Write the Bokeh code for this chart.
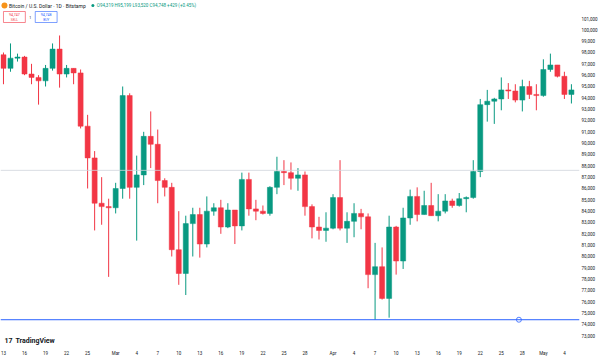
import pandas as pd
from bokeh.plotting import figure
from bokeh.models import (ColumnDataSource, FixedTicker, NumeralTickFormatter, Span,
                          Label, Range1d)
from bokeh.embed import file_html
from bokeh.resources import INLINE

# ---------------- data (BTC/USD daily, Bitstamp) ----------------
first_day = "2025-02-13"
dates = pd.date_range(first_day, periods=82, freq="D")

opens = [97800, 96600, 97500, 97600, 96100, 95800, 95500, 96600, 98300, 96100,
         96600, 96200, 91500, 88700, 84700, 84400, 84300, 86000, 94200, 86100,
         87200, 90600, 89900, 86700, 86100, 80600, 78500, 82900, 83700, 81100,
         84000, 84300, 82600, 84100, 82700, 86800, 84200, 84000, 83800, 86100,
         87500, 87400, 86900, 87200, 84400, 82600, 82300, 82500, 85200, 82500,
         83100, 83800, 83500, 78400, 79100, 76300, 82600, 79600, 83400, 85300,
         83700, 84500, 83600, 84000, 84900, 84500, 85100, 85200, 87500, 93400,
         93700, 93900, 94700, 94600, 93800, 95000, 94300, 94200, 96500, 96900,
         95900, 94300]
highs = [98000, 98800, 97900, 97700, 97000, 96000, 96900, 98800, 99500, 96900,
         96600, 96500, 92500, 89300, 87000, 85100, 86500, 95000, 94400, 88900,
         91000, 92800, 91200, 86900, 86500, 84000, 83600, 84300, 84300, 85300,
         84700, 85000, 84700, 84100, 87400, 87400, 85000, 84500, 86200, 88800,
         88500, 88300, 87800, 87500, 84600, 83500, 83900, 85500, 88500, 83900,
         84700, 84200, 83800, 81200, 80800, 83600, 82700, 84300, 85900, 86100,
         85800, 86500, 85500, 85500, 85100, 85600, 85300, 88500, 93900, 94700,
         94000, 95800, 95300, 95200, 95600, 95500, 95200, 97400, 97900, 96900,
         96300, 95200]
lows = [95200, 96300, 97200, 96000, 95200, 93400, 95000, 96400, 94900, 95800,
        95200, 91300, 86000, 82300, 82800, 78200, 83800, 85100, 85100, 81400,
        86300, 87800, 84700, 85300, 80000, 77500, 76600, 80000, 79900, 80800,
        83600, 82000, 82500, 81100, 82300, 83600, 83200, 83700, 83600, 85500,
        86300, 85900, 85800, 83600, 81600, 81500, 81300, 82400, 82300, 81200,
        81700, 82400, 77200, 74420, 76200, 74600, 78400, 78900, 82800, 83100,
        83700, 83600, 83100, 83800, 84300, 84400, 83900, 85100, 87000, 91900,
        91700, 92900, 93900, 93600, 92800, 93900, 92900, 94100, 96300, 95800,
        93900, 93500]
closes = [96600, 97500, 97600, 96100, 95800, 95500, 96600, 98300, 96100, 96600,
          96200, 91500, 88700, 84700, 84400, 84300, 86000, 94200, 86100, 87200,
          90600, 89900, 86700, 86100, 80600, 78500, 82900, 83700, 81100, 84000,
          84300, 82600, 84100, 82700, 86800, 84200, 84000, 83800, 86100, 87500,
          87400, 86900, 87200, 84400, 82600, 82300, 82500, 85200, 82500, 83100,
          83800, 83500, 78400, 79100, 76300, 82600, 79600, 83400, 85300, 83700,
          84500, 83600, 84000, 84900, 84500, 85100, 85200, 87500, 93400, 93700,
          93900, 94700, 94600, 93800, 95000, 94300, 94200, 96500, 96900, 95900,
          94300, 94700]

tick_dates = ["2025-02-13", "2025-02-16", "2025-02-19", "2025-02-22", "2025-02-25",
              "2025-03-01", "2025-03-04", "2025-03-07", "2025-03-10", "2025-03-13",
              "2025-03-16", "2025-03-19", "2025-03-22", "2025-03-25", "2025-03-28",
              "2025-04-01", "2025-04-04", "2025-04-07", "2025-04-10", "2025-04-13",
              "2025-04-16", "2025-04-19", "2025-04-22", "2025-04-25", "2025-04-28",
              "2025-05-01", "2025-05-04"]
tick_labels = ["13", "16", "19", "22", "25", "Mar", "4", "7", "10", "13", "16", "19",
               "22", "25", "28", "Apr", "4", "7", "10", "13", "16", "19", "22", "25",
               "28", "May", "4"]
price_ticks = list(range(72000, 102000, 1000))

support_level = 74420      # blue horizontal ray
marker_level = 87600       # grey horizontal line
last_close = closes[-1]

UP, DOWN = "#089981", "#F23645"

# ---------------- layout helpers (pixel -> data) ----------------
PX_DAY = 7.06
X0 = -3 / PX_DAY
FRAME_W, FRAME_H = 583, 346
X1 = X0 + FRAME_W / PX_DAY
PX_K = 88.24  # price per pixel
def xd(px):
    return X0 + px / PX_DAY
def yd(py):
    return 101000 - (py - 18) * PX_K
Y1, Y0 = yd(0), yd(FRAME_H)

day0 = pd.Timestamp(first_day)
xs = [(d - day0).days for d in dates]
src = ColumnDataSource(dict(
    x=xs, o=opens, h=highs, l=lows, c=closes,
    top=[max(a, b) for a, b in zip(opens, closes)],
    bottom=[min(a, b) for a, b in zip(opens, closes)],
    color=[UP if c >= o else DOWN for o, c in zip(opens, closes)],
))

p = figure(width=600, height=359, output_backend="svg", toolbar_location=None,
           x_range=Range1d(X0, X1), y_range=Range1d(Y0, Y1),
           y_axis_location="right", min_border_left=0, min_border_top=0,
           min_border_right=17, min_border_bottom=13)
p.outline_line_color = None
p.background_fill_color = "white"
p.border_fill_color = "white"
p.xgrid.visible = False
p.ygrid.visible = False

FONT = "Roboto"
ax = p.yaxis[0]
ax.ticker = FixedTicker(ticks=price_ticks)
ax.formatter = NumeralTickFormatter(format="0,0")
ax.axis_line_color = None
ax.major_tick_line_color = None
ax.minor_tick_line_color = None
ax.major_tick_out = 0
ax.major_tick_in = 0
ax.minor_tick_out = 0
ax.minor_tick_in = 0
ax.major_label_text_font_size = "4.5px"
ax.major_label_text_font = FONT
ax.major_label_text_color = "#131722"
ax.major_label_standoff = 2

tick_x = [(pd.Timestamp(t) - day0).days for t in tick_dates]
bx = p.xaxis[0]
bx.ticker = FixedTicker(ticks=tick_x)
bx.major_label_overrides = {k: v for k, v in zip(tick_x, tick_labels)}
bx.axis_line_color = None
bx.major_tick_line_color = None
bx.minor_tick_line_color = None
bx.major_tick_out = 0
bx.major_tick_in = 0
bx.minor_tick_out = 0
bx.minor_tick_in = 0
bx.major_label_text_font_size = "4.5px"
bx.major_label_text_font = FONT
bx.major_label_text_color = "#131722"
bx.major_label_standoff = 4

# horizontal lines
p.add_layout(Span(location=marker_level, dimension="width", line_color="#d1d4dc", line_width=0.8))
p.add_layout(Span(location=support_level, dimension="width", line_color="#2962FF", line_width=1))

# candles
p.segment(x0="x", y0="l", x1="x", y1="h", line_color="color", line_width=1, source=src)
p.vbar(x="x", width=0.72, top="top", bottom="bottom", fill_color="color",
       line_color="color", line_width=0.5, source=src)

# ray anchor
p.scatter(x=[xd(522)], y=[support_level], size=5, marker="circle",
          fill_color="white", line_color="#2962FF", line_width=0.8)

# header
p.scatter(x=[xd(4)], y=[yd(5)], size=6, marker="circle", fill_color="#F7931A", line_color=None)
p.add_layout(Label(x=xd(8.5), y=yd(5), text="Bitcoin / U.S. Dollar · 1D · Bitstamp",
                   text_font=FONT, text_font_size="5px", text_color="#131722",
                   text_baseline="middle"))
p.scatter(x=[xd(93)], y=[yd(5)], size=3, marker="circle", fill_color=UP, line_color=None)
p.add_layout(Label(x=xd(97), y=yd(5), text="O94,319 H95,199 L93,520 C94,748 +429 (+0.45%)",
                   text_font=FONT, text_font_size="4.5px", text_color=UP,
                   text_baseline="middle"))
p.quad(left=[xd(3)], right=[xd(25)], top=[yd(11)], bottom=[yd(22)], fill_color="white",
       line_color=DOWN, line_width=0.6)
p.quad(left=[xd(35)], right=[xd(57)], top=[yd(11)], bottom=[yd(22)], fill_color="white",
       line_color="#2962FF", line_width=0.6)
for cx, col, t1, t2 in [(14, DOWN, "94,747", "SELL"), (46, "#2962FF", "94,748", "BUY")]:
    p.add_layout(Label(x=xd(cx), y=yd(14), text=t1, text_font=FONT, text_font_size="3.6px",
                       text_color=col, text_align="center", text_baseline="middle"))
    p.add_layout(Label(x=xd(cx), y=yd(19), text=t2, text_font=FONT, text_font_size="3.2px",
                       text_color=col, text_align="center", text_baseline="middle"))
p.add_layout(Label(x=xd(30), y=yd(16.5), text="1", text_font=FONT, text_font_size="3.6px",
                   text_color="#131722", text_align="center", text_baseline="middle"))

# price-axis labels
p.add_layout(Label(x=xd(587), y=yd(5), text="USD", text_font=FONT, text_font_size="4.5px",
                   text_color="#131722", text_baseline="middle"))
p.add_layout(Label(x=xd(584.5), y=last_close, text=f"{last_close:,}", text_font=FONT,
                   text_font_size="4.5px", text_color=UP, text_baseline="middle",
                   background_fill_color="white", border_line_color=UP, border_line_width=0.6,
                   padding=1))
p.add_layout(Label(x=xd(584.5), y=marker_level, text=f"{marker_level:,}", text_font=FONT,
                   text_font_size="4.5px", text_color="white", text_baseline="middle",
                   background_fill_color=UP, padding=1))
p.add_layout(Label(x=xd(584.5), y=support_level, text=f"{support_level:,}", text_font=FONT,
                   text_font_size="4.5px", text_color="white", text_baseline="middle",
                   background_fill_color="#2962FF", padding=1))

# TradingView watermark
p.add_layout(Label(x=xd(4), y=yd(340), text="17", text_font=FONT, text_font_size="7px",
                   text_font_style="bold", text_color="#131722", text_baseline="middle"))
p.add_layout(Label(x=xd(15), y=yd(340), text="TradingView", text_font=FONT,
                   text_font_size="7px", text_font_style="bold", text_color="#131722",
                   text_baseline="middle"))

open("out.html", "w").write(file_html(p, INLINE))
